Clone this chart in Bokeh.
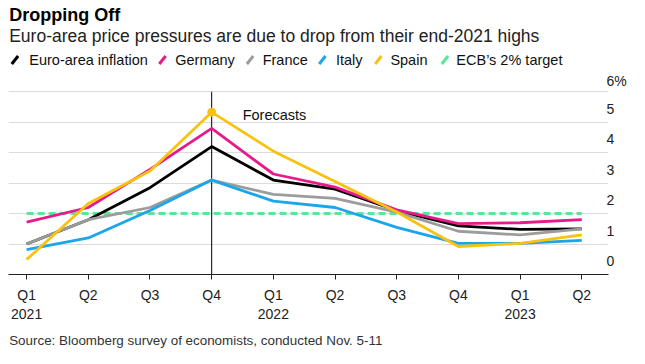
from bokeh.plotting import figure
from bokeh.layouts import column
from bokeh.models import (Range1d, LinearAxis, FixedTicker, Grid, Label)
from bokeh.core.properties import value
from bokeh.embed import file_html
from bokeh.resources import INLINE

# ---------------- data ----------------
quarters = ["Q1\n2021", "Q2", "Q3", "Q4", "Q1\n2022", "Q2", "Q3", "Q4", "Q1\n2023", "Q2"]
euro_area = [1.0, 1.8, 2.85, 4.2, 3.1, 2.8, 2.1, 1.6, 1.48, 1.5]
germany = [1.72, 2.2, 3.45, 4.8, 3.3, 2.87, 2.12, 1.67, 1.7, 1.8]
france = [1.0, 1.8, 2.2, 3.1, 2.63, 2.5, 2.05, 1.42, 1.3, 1.5]
italy = [0.82, 1.2, 2.1, 3.1, 2.41, 2.2, 1.55, 1.02, 1.02, 1.12]
spain = [0.49, 2.33, 3.4, 5.33, 4.05, 3.05, 2.05, 0.92, 1.02, 1.3]
ecb_target = [2.0] * 10
forecast_start = 3  # index of "Q4 2021"

y_ticks = [0, 1, 2, 3, 4, 5, 6]
y_tick_labels = ["0", "1", "2", "3", "4", "5", "6%"]

series_names = ["Euro-area inflation", "Germany", "France", "Italy", "Spain", "ECB\u2019s 2% target"]
colors = ["#000000", "#e8198b", "#9c9c9c", "#1ba6ea", "#f9c20f", "#5ce49a"]

title_text = "Dropping Off"
subtitle_text = "Euro-area price pressures are due to drop from their end-2021 highs"
source_text = "Source: Bloomberg survey of economists, conducted Nov. 5-11"

# ---------------- layout (pixels) ----------------
W = 629
HEADER_H = 72
FOOTER_H = 20
MAIN_H = 348 - HEADER_H - FOOTER_H
BORDER_L = 8
BORDER_R = 15
FONT = "Liberation Sans"
legend_slash_x = [14.5, 163.5, 252.0, 325.0, 381.5, 448.8]   # centre of each slanted key
legend_text_x = [29.0, 176.4, 264.7, 338.7, 393.7, 460.3]     # left edge of each key label


def blank(height):
    # frame shares the main chart's side borders, so data x == canvas x
    f = figure(width=W, height=height, output_backend="svg", toolbar_location=None,
               x_range=Range1d(BORDER_L, W - BORDER_R), y_range=Range1d(height, 0),
               min_border_left=BORDER_L, min_border_right=BORDER_R,
               min_border_top=0, min_border_bottom=0,
               x_axis_location=None, y_axis_location=None)
    f.outline_line_color = None
    f.xgrid.visible = False
    f.ygrid.visible = False
    return f


# ---------------- header: title, subtitle, key ----------------
h = blank(HEADER_H)
h.text(x=[8.7], y=[14.3], text=[title_text], text_font=value(FONT), text_font_size="18px",
       text_font_style="bold", text_color="#000000", text_baseline="middle")
h.text(x=[8.7], y=[35.5], text=[subtitle_text], text_font=value(FONT), text_font_size="17.5px",
       text_color="#222222", text_baseline="middle")
key_y = 59.5
h.segment(x0=[x - 3.2 for x in legend_slash_x], y0=[key_y + 4.0] * 6,
          x1=[x + 3.2 for x in legend_slash_x], y1=[key_y - 4.0] * 6,
          line_color=colors, line_width=3)
h.text(x=legend_text_x, y=[59.7] * 6, text=series_names, text_font=value(FONT),
       text_font_size="14.5px", text_color="#111111", text_baseline="middle")

# ---------------- main chart ----------------
xs = list(range(len(quarters)))
p = figure(width=W, height=MAIN_H, output_backend="svg", toolbar_location=None,
           x_range=Range1d(-0.2937, len(quarters) - 1 + 0.433),
           y_range=Range1d(0, 6.6),
           y_axis_location=None,
           min_border_left=BORDER_L, min_border_right=BORDER_R, min_border_top=1,
           min_border_bottom=MAIN_H - 1 - 201)
p.outline_line_color = None
p.xgrid.visible = False
p.ygrid.visible = False

grid = Grid(dimension=1, ticker=FixedTicker(ticks=y_ticks), grid_line_color="#dcdcdc", grid_line_width=1)
p.add_layout(grid)

xa = p.xaxis[0]
xa.ticker = FixedTicker(ticks=xs)
xa.major_label_overrides = {i: q for i, q in enumerate(quarters)}
xa.axis_line_color = "#222222"
xa.major_tick_line_color = "#222222"
xa.major_tick_in = 0
xa.major_tick_out = 5
xa.minor_tick_line_color = None
xa.major_label_text_font = FONT
xa.major_label_text_font_size = "14px"
xa.major_label_text_color = "#222222"
xa.major_label_standoff = 7

# right-hand labels sitting above their gridlines
shift = 0.44
p.extra_y_ranges = {"lab": Range1d(0 - shift, 6.6 - shift)}
ya = LinearAxis(y_range_name="lab", ticker=FixedTicker(ticks=y_ticks),
                major_label_overrides={t: l for t, l in zip(y_ticks, y_tick_labels)})
ya.axis_line_color = None
ya.major_tick_line_color = None
ya.minor_tick_line_color = None
ya.major_label_standoff = -8
ya.major_label_text_font = FONT
ya.major_label_text_font_size = "14px"
ya.major_label_text_color = "#222222"
p.add_layout(ya, "right")

p.line(xs, ecb_target, line_color=colors[5], line_width=3, line_dash="7 4")
p.segment(x0=[forecast_start], y0=[min(y_ticks)], x1=[forecast_start], y1=[max(y_ticks)],
          line_color="black", line_width=1)
for vals, c in zip([euro_area, germany, france, italy, spain], colors[:5]):
    p.line(xs, vals, line_color=c, line_width=2.8, line_join="round")

peak = spain.index(max(spain))
p.scatter([xs[peak]], [spain[peak]], size=8, color=colors[4])

p.add_layout(Label(x=forecast_start, y=max(y_ticks), x_offset=31, y_offset=-23,
                   text="Forecasts", text_font=FONT, text_font_size="14.5px",
                   text_color="#111111", text_baseline="middle"))

# ---------------- footer: source ----------------
f = blank(FOOTER_H)
f.text(x=[8.7], y=[11.5], text=[source_text], text_font=value(FONT), text_font_size="13.4px",
       text_color="#333333", text_baseline="middle")

layout = column(h, p, f, spacing=0)
open("out.html", "w").write(file_html(layout, INLINE))
